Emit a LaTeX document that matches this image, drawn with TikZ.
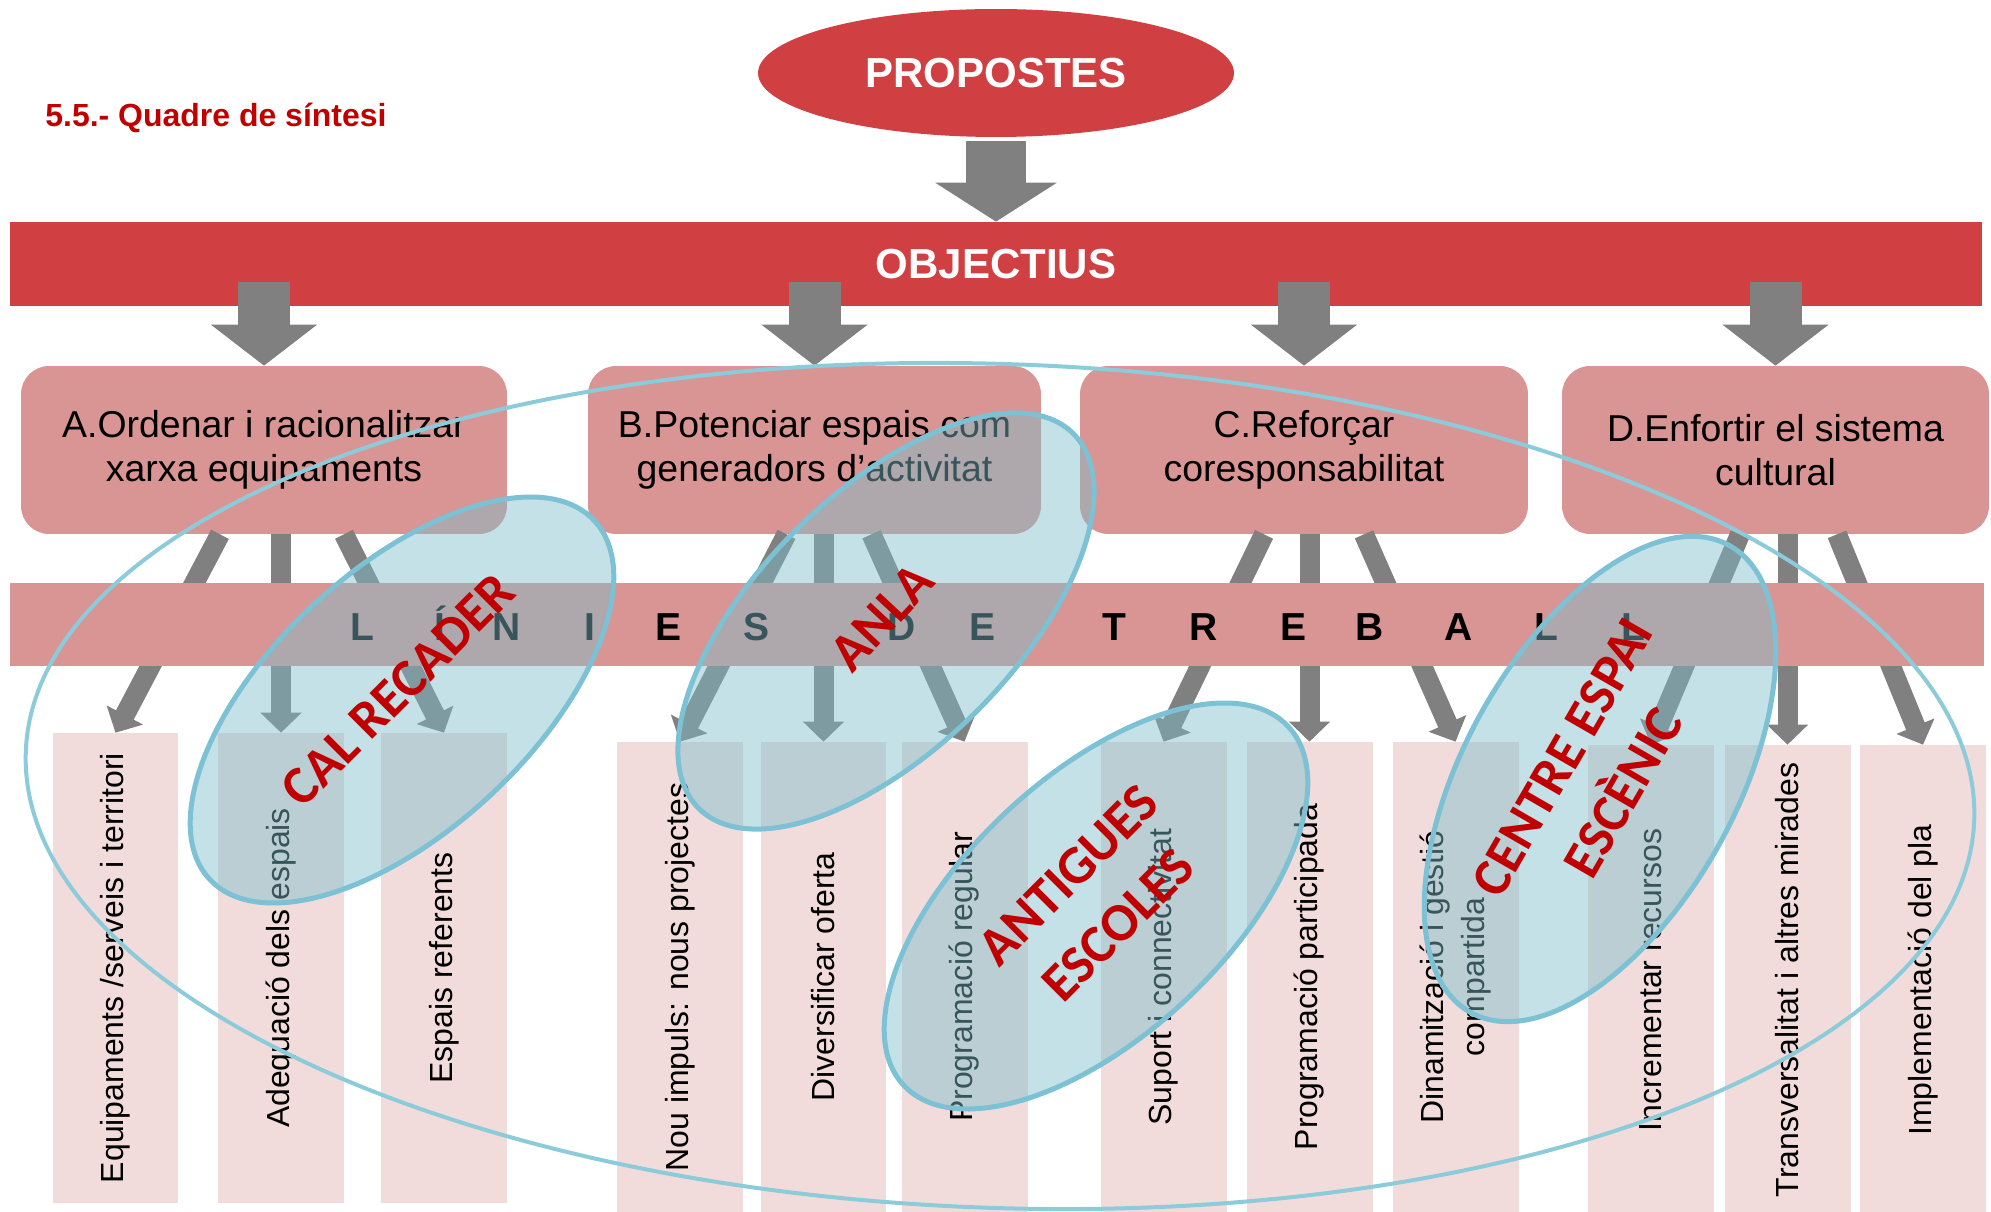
\documentclass[tikz,border=0pt]{standalone}
\usepackage{fontspec}
\setmainfont{Liberation Sans}
\newfontfamily\calfont{Carlito}
\usetikzlibrary{shapes.geometric,arrows.meta}
\definecolor{vermell}{RGB}{208,64,66}
\definecolor{rosa}{RGB}{217,149,148}
\definecolor{rosaclar}{RGB}{242,220,219}
\definecolor{gris}{RGB}{128,128,128}
\definecolor{blau}{RGB}{122,189,202}
\definecolor{blauvora}{RGB}{124,193,212}
\definecolor{blauclar}{RGB}{140,203,218}
\definecolor{granat}{RGB}{192,0,0}

\begin{document}
\begin{tikzpicture}[x=0.02cm, y=-0.02cm,
  barra/.style={shape=rectangle, fill=vermell, text=white, font=\bfseries\fontsize{23.9}{28}\selectfont, inner sep=0pt},
  objectiu/.style={shape=rectangle, rounded corners=0.56cm, fill=rosa, minimum height=3.36cm, align=center, font=\fontsize{21.3}{25}\selectfont, inner sep=0pt},
  linia/.style={shape=rectangle, fill=rosaclar, rotate=90, minimum width=9.4cm, minimum height=2.52cm, align=center, font=\fontsize{18.2}{23}\selectfont, inner sep=0pt},
  lletra/.style={anchor=base, font=\bfseries\fontsize{22.2}{26}\selectfont, inner sep=0pt},
  bloc/.style={-{Triangle[width=2.08cm, length=0.82cm]}, line width=1.04cm, draw=gris, fill=gris},
  fletxa/.style={-{Triangle[width=0.8cm, length=0.4cm]}, line width=0.4cm, draw=gris, fill=gris},
  grup/.style={fill=blau, fill opacity=0.45, draw=blauvora, draw opacity=1, line width=0.1cm},
  etiqueta/.style={text=granat, font=\calfont\bfseries\fontsize{30.7}{40}\selectfont, align=center, inner sep=0pt}]
\useasboundingbox (0,0) rectangle (1991,1212);

% capcalera
\node[anchor=west, text=granat, font=\bfseries\fontsize{18.2}{22}\selectfont, inner sep=0pt] (titol) at (45,118) {5.5.- Quadre de síntesi};
\node[shape=ellipse, fill=vermell, minimum width=9.52cm, minimum height=2.56cm, inner sep=0pt, text=white, font=\bfseries\fontsize{23.9}{28}\selectfont] (prop) at (996,73) {PROPOSTES};
\node[barra, minimum width=39.46cm, minimum height=1.68cm] (obj) at (996,264) {OBJECTIUS};
\draw[bloc, line width=1.2cm, -{Triangle[width=2.4cm, length=0.78cm]}, shorten <=0.08cm] (prop.south) -- (obj.north);

% objectius
\node[objectiu, minimum width=9.72cm] (A) at (264,450) {A.Ordenar i racionalitzar\\xarxa equipaments};
\node[objectiu, minimum width=9.06cm] (B) at (814.5,450) {B.Potenciar espais com\\generadors d’activitat};
\node[objectiu, minimum width=8.96cm] (C) at (1304,450) {C.Reforçar\\coresponsabilitat};
\node[objectiu, minimum width=8.54cm] (D) at (1775.5,450) {D.Enfortir el sistema\\cultural};
\draw[bloc, shorten <=0.36cm] (A.north |- obj.center) -- (A.north);
\draw[bloc, shorten <=0.36cm] (B.north |- obj.center) -- (B.north);
\draw[bloc, shorten <=0.36cm] (C.north |- obj.center) -- (C.north);
\draw[bloc, shorten <=0.36cm] (D.north |- obj.center) -- (D.north);

% linies de treball
\node[linia] (c1) at (115.5,968) {Equipaments /serveis i territori};
\node[linia] (c2) at (281,968) {Adequació dels espais};
\node[linia] (c3) at (444,968) {Espais referents};
\node[linia] (c4) at (680,977) {Nou impuls: nous projectes};
\node[linia] (c5) at (823.5,977) {Diversificar oferta};
\node[linia] (c6) at (964.5,977) {Programació regular};
\node[linia] (c7) at (1163.5,977) {Suport i connectivitat};
\node[linia] (c8) at (1309.5,977) {Programació participada};
\node[linia] (c9) at (1455.5,977) {Dinamització i gestió\\compartida};
\node[linia] (c10) at (1651,980) {Incrementar recursos};
\node[linia] (c11) at (1787.5,980) {Transversalitat i altres mirades};
\node[linia] (c12) at (1923,980) {Implementació del pla};

\draw[fletxa] ([xshift=-0.88cm]A.south) -- (c1.east);
\draw[fletxa] (A.south -| c2.east) -- (c2.east);
\draw[fletxa] ([xshift=1.6cm]A.south) -- (c3.east);
\draw[fletxa] ([xshift=-0.56cm]B.south) -- (c4.east);
\draw[fletxa] (B.south -| c5.east) -- (c5.east);
\draw[fletxa] ([xshift=1.14cm]B.south) -- (c6.east);
\draw[fletxa] ([xshift=-0.8cm]C.south) -- (c7.east);
\draw[fletxa] (C.south -| c8.east) -- (c8.east);
\draw[fletxa] ([xshift=1.2cm]C.south) -- (c9.east);
\draw[fletxa] ([xshift=-0.71cm]D.south) -- (c10.east);
\draw[fletxa] (D.south -| c11.east) -- (c11.east);
\draw[fletxa] ([xshift=1.23cm]D.south) -- (c12.east);

\node[shape=rectangle, fill=rosa, minimum width=39.48cm, minimum height=1.66cm, inner sep=0pt] (lin) at (997,624.5) {};
\node[lletra] (l1) at (362,641) {L};
\node[lletra] (l2) at (440,641) {Í};
\node[lletra] (l3) at (507,641) {N};
\node[lletra] (l4) at (590,641) {I};
\node[lletra] (l5) at (668,641) {E};
\node[lletra] (l6) at (756,641) {S};
\node[lletra] (l7) at (902,641) {D};
\node[lletra] (l8) at (982,641) {E};
\node[lletra] (l9) at (1114,641) {T};
\node[lletra] (l10) at (1204,641) {R};
\node[lletra] (l11) at (1293,641) {E};
\node[lletra] (l12) at (1370,641) {B};
\node[lletra] (l13) at (1459,641) {A};
\node[lletra] (l14) at (1546,641) {L};
\node[lletra] (l15) at (1633,641) {L};

% espais
\draw[draw=blauclar, line width=0.08cm, rotate around={-2:(1000,786)}] (1000,786) ellipse [x radius=19.5cm, y radius=8.44cm];
\draw[grup, rotate around={43:(402,700)}] (402,700) ellipse [x radius=5.26cm, y radius=2.6cm];
\draw[grup, rotate around={45:(886,621)}] (886,621) ellipse [x radius=5.3cm, y radius=2.56cm];
\draw[grup, rotate around={43:(1096,906)}] (1096,906) ellipse [x radius=5.26cm, y radius=2.6cm];
\draw[grup, rotate around={61:(1600,779)}] (1600,779) ellipse [x radius=5.34cm, y radius=2.72cm];

\node[etiqueta, rotate=45] (cal) at (398,690) {CAL RECADER};
\node[etiqueta, rotate=47] (anla) at (882,617) {ANLA};
\node[etiqueta, rotate=45] (escoles) at (1093,900) {ANTIGUES\\ESCOLES};
\node[etiqueta, rotate=60] (centre) at (1593,775) {CENTRE ESPAI\\ESCÈNIC};
\end{tikzpicture}
\end{document}
